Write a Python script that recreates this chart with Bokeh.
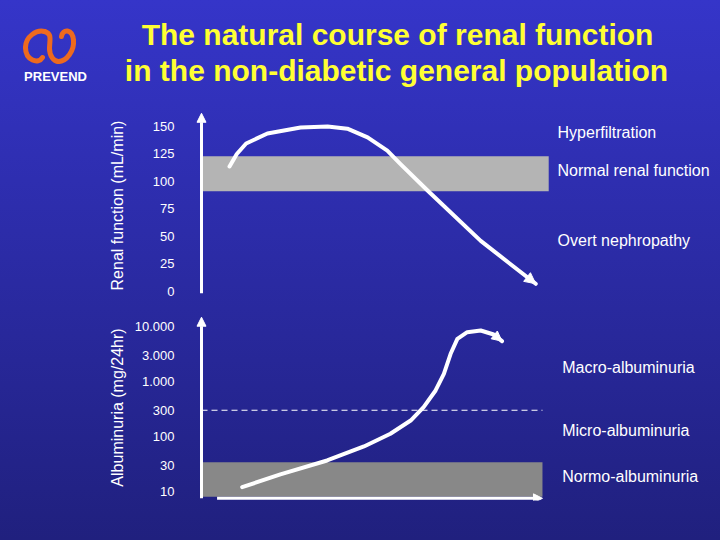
from bokeh.plotting import figure
from bokeh.models import (Range1d, LinearAxis, LogAxis, FixedTicker, Arrow, NormalHead,
                          CustomJSTickFormatter, Label)
from bokeh.layouts import column
from bokeh.core.properties import value
from bokeh.embed import file_html
from bokeh.resources import INLINE

FONT = "Liberation Sans"
WHITE = "white"

# ---------------- data ----------------
title_lines = ["The natural course of renal function",
               "in the non-diabetic general population"]

renal_ticks = [0, 25, 50, 75, 100, 125, 150]
age_top = [5.4, 6.8, 8.6, 12.7, 19.1, 24.3, 28.1, 32.0, 35.8, 38.3, 43.5, 53.8, 64.4]
renal = [113.6, 125, 134.5, 143.6, 149, 150, 148, 140, 128, 116, 92, 46, 7]
normal_lo, normal_hi = 91, 123
top_labels = ["Hyperfiltration", "Normal renal function", "Overt nephropathy"]
top_label_y = [144.3, 110, 46.4]

alb_ticks = [10, 30, 100, 300, 1000, 3000, 10000]
age_bot = [7.84, 15.2, 24.2, 31.3, 36.4, 40.3, 42.8, 45.1, 46.7, 48.0, 49.3, 51.2, 53.8, 56.3, 57.9]
alb = [12.0, 20.4, 36.6, 65.8, 112, 195, 341, 686, 1380, 3190, 5970, 7870, 8450, 7160, 5410]
micro_threshold = 300
normo_lo, normo_hi = 8, 34
bot_labels = ["Macro-albuminuria", "Micro-albuminuria", "Normo-albuminuria"]
bot_label_y = [1775, 128.5, 18.7]

age_end = 66.9      # right end of reference band (top)
age_end_b = 65.7    # right end of bands / x axis (bottom)

# logo path (decorative), header coordinates (pixels)
logo_x0 = [42, 25, 44, 49, 58, 73]
logo_y0 = [57, 47, 31, 48, 61, 40]
logo_x1 = [25, 44, 49, 58, 73, 61]
logo_y1 = [47, 31, 48, 61, 40, 36]
logo_cx0 = [38, 25, 52, 49, 66, 72]
logo_cy0 = [64, 36, 33, 55, 61, 28]
logo_cx1 = [25, 36, 49, 53, 74, 62]
logo_cy1 = [60, 29, 40, 61, 50, 28]

common = dict(output_backend="svg", toolbar_location=None,
              x_axis_location=None, y_axis_location=None,
              border_fill_color=None, background_fill_color=None,
              outline_line_color=None)

# ---------------- header ----------------
# the column aligns frames, so this frame starts at 190 px; draw on overlay level
ph = figure(width=720, height=100, x_range=Range1d(190, 720), y_range=Range1d(100, 0),
            min_border_left=190, min_border_right=0, min_border_top=0, min_border_bottom=0,
            **common)
ph.grid.visible = False
r_t = ph.text(x=[397, 396], y=[34, 70], text=title_lines, text_align="center",
              text_baseline="middle", text_font=value(FONT), text_font_size="30px",
              text_font_style="bold", text_color="#FFFF33")
r_p = ph.text(x=[55], y=[76], text=["PREVEND"], text_align="center", text_baseline="middle",
              text_font=value(FONT), text_font_size="13px", text_font_style="bold",
              text_color=WHITE)
r_l = ph.bezier(x0=logo_x0, y0=logo_y0, x1=logo_x1, y1=logo_y1, cx0=logo_cx0, cy0=logo_cy0,
                cx1=logo_cx1, cy1=logo_cy1, line_color="#EE6A1E", line_width=5,
                line_cap="round")
for r in (r_t, r_p, r_l):
    r.level = "overlay"

# ---------------- top: renal function ----------------
x_range = (-2.12, 100)
p1 = figure(width=720, height=205, x_range=Range1d(*x_range), y_range=Range1d(-8.18, 164.5),
            min_border_left=190, min_border_right=0, min_border_top=10, min_border_bottom=5,
            **common)
p1.grid.visible = False
ax1 = LinearAxis(ticker=FixedTicker(ticks=renal_ticks), axis_label="Renal function (mL/min)")
p1.add_layout(ax1, "left")

p1.quad(left=[0], right=[age_end], bottom=[normal_lo], top=[normal_hi],
        fill_color="#B4B4B4", line_color=None)
p1.line(age_top, renal, line_color=WHITE, line_width=4, line_cap="round", line_join="round")
p1.add_layout(Arrow(x_start=age_top[-2], y_start=renal[-2], x_end=age_top[-1], y_end=renal[-1],
                    line_alpha=0,
                    end=NormalHead(size=11, fill_color=WHITE, line_color=WHITE)))
p1.add_layout(Arrow(x_start=0, y_start=-1.5, x_end=0, y_end=162, line_color=WHITE, line_width=3,
                    end=NormalHead(size=9, fill_color=WHITE, line_color=WHITE)))
p1.text(x=[68.6] * 3, y=top_label_y, text=top_labels, text_align="left", text_baseline="middle",
        text_font=value(FONT), text_font_size="16px", text_color=WHITE)

# ---------------- bottom: albuminuria ----------------
p2 = figure(width=720, height=235, x_range=Range1d(*x_range), y_range=Range1d(6.85, 16520),
            y_axis_type="log",
            min_border_left=190, min_border_right=0, min_border_top=9, min_border_bottom=40,
            **common)
p2.grid.visible = False
ax2 = LogAxis(ticker=FixedTicker(ticks=alb_ticks), axis_label="Albuminuria (mg/24hr)",
              formatter=CustomJSTickFormatter(code="""
                  return String(Math.round(tick)).replace(/\\B(?=(\\d{3})+(?!\\d))/g, '.');"""))
p2.add_layout(ax2, "left")

p2.quad(left=[0], right=[age_end_b], bottom=[normo_lo], top=[normo_hi],
        fill_color="#888888", line_color=None)
p2.line([0, age_end_b], [micro_threshold, micro_threshold], line_color=WHITE, line_width=1.2,
        line_dash="6 4")
p2.line(age_bot, alb, line_color=WHITE, line_width=4, line_cap="round", line_join="round")
p2.add_layout(Arrow(x_start=age_bot[-2], y_start=alb[-2], x_end=age_bot[-1], y_end=alb[-1],
                    line_alpha=0,
                    end=NormalHead(size=10, fill_color=WHITE, line_color=WHITE)))
p2.add_layout(Arrow(x_start=0, y_start=7.5, x_end=0, y_end=14760, line_color=WHITE, line_width=3,
                    end=NormalHead(size=9, fill_color=WHITE, line_color=WHITE)))
p2.add_layout(Arrow(x_start=3, y_start=7.5, x_end=age_end_b, y_end=7.5, line_color=WHITE,
                    line_width=3, end=NormalHead(size=9, fill_color=WHITE, line_color=WHITE)))
p2.text(x=[69.5] * 3, y=bot_label_y, text=bot_labels, text_align="left", text_baseline="middle",
        text_font=value(FONT), text_font_size="16px", text_color=WHITE)
p2.add_layout(Label(x=38.7, y=2.62, text="Increasing age (years)", text_align="center",
                    text_baseline="middle", text_font=FONT, text_font_size="16px",
                    text_color=WHITE))

for ax, lab_standoff in ((ax1, 24), (ax2, 6)):
    ax.axis_line_color = None
    ax.major_tick_line_color = None
    ax.minor_tick_line_color = None
    ax.major_label_standoff = 10
    ax.major_label_text_font = FONT
    ax.major_label_text_font_size = "13px"
    ax.major_label_text_color = WHITE
    ax.axis_label_text_font = FONT
    ax.axis_label_text_font_size = "16px"
    ax.axis_label_text_font_style = "normal"
    ax.axis_label_text_color = WHITE
    ax.axis_label_standoff = lab_standoff

layout = column(ph, p1, p2, spacing=0,
                styles={"background": "linear-gradient(to bottom, #3535C9 0%, #20207E 100%)"})

open("out.html", "w").write(file_html(layout, INLINE))
